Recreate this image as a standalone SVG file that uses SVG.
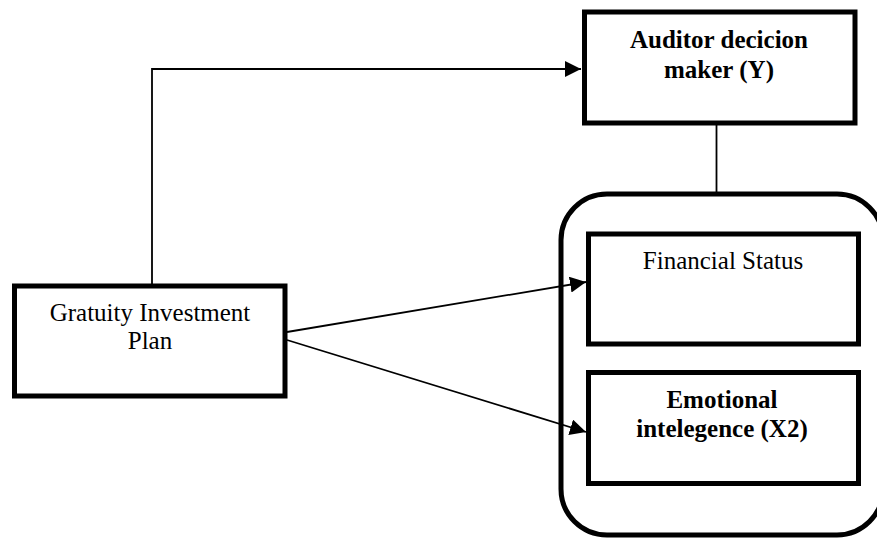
<svg xmlns="http://www.w3.org/2000/svg" width="877" height="539" viewBox="0 0 877 539">
<style>
.box{fill:#fff;stroke:#000;stroke-width:5}
.txt{font-family:"Liberation Serif","Times New Roman",serif;font-size:25px;fill:#000;text-anchor:middle}
.b{font-weight:bold}
.con{fill:none;stroke:#000;stroke-width:1.8}
</style>
<defs>
<marker id="arr" markerUnits="userSpaceOnUse" markerWidth="16" markerHeight="16" viewBox="0 0 14 14" refX="14" refY="7" orient="auto">
<path d="M0,0 L14,7 L0,14 Z" fill="#000"/>
</marker>
</defs>
<g id="container">
<rect x="561" y="194" width="322" height="341" rx="46" ry="46" fill="none" stroke="#000" stroke-width="5"/>
</g>
<g id="connectors">
<polyline class="con" points="152,284 152,69 581,69" marker-end="url(#arr)"/>
<line class="con" x1="716.5" y1="125" x2="716.5" y2="192"/>
<line class="con" x1="287" y1="332" x2="586" y2="282" marker-end="url(#arr)"/>
<line class="con" x1="287" y1="340" x2="586" y2="432" marker-end="url(#arr)"/>
</g>
<g id="auditor">
<rect class="box" x="584.5" y="12" width="270.5" height="111"/>
<text class="txt b" x="719" y="48">Auditor decicion</text>
<text class="txt b" x="719" y="78">maker (Y)</text>
</g>
<g id="gratuity">
<rect class="box" x="14.5" y="286" width="270.5" height="110"/>
<text class="txt" x="150" y="321">Gratuity Investment</text>
<text class="txt" x="150" y="349">Plan</text>
</g>
<g id="financial">
<rect class="box" x="588.5" y="234" width="270" height="110"/>
<text class="txt" x="723" y="269">Financial Status</text>
</g>
<g id="emotional">
<rect class="box" x="588.5" y="372.5" width="270" height="111"/>
<text class="txt b" x="722" y="408">Emotional</text>
<text class="txt b" x="722" y="437">intelegence (X2)</text>
</g>
</svg>
